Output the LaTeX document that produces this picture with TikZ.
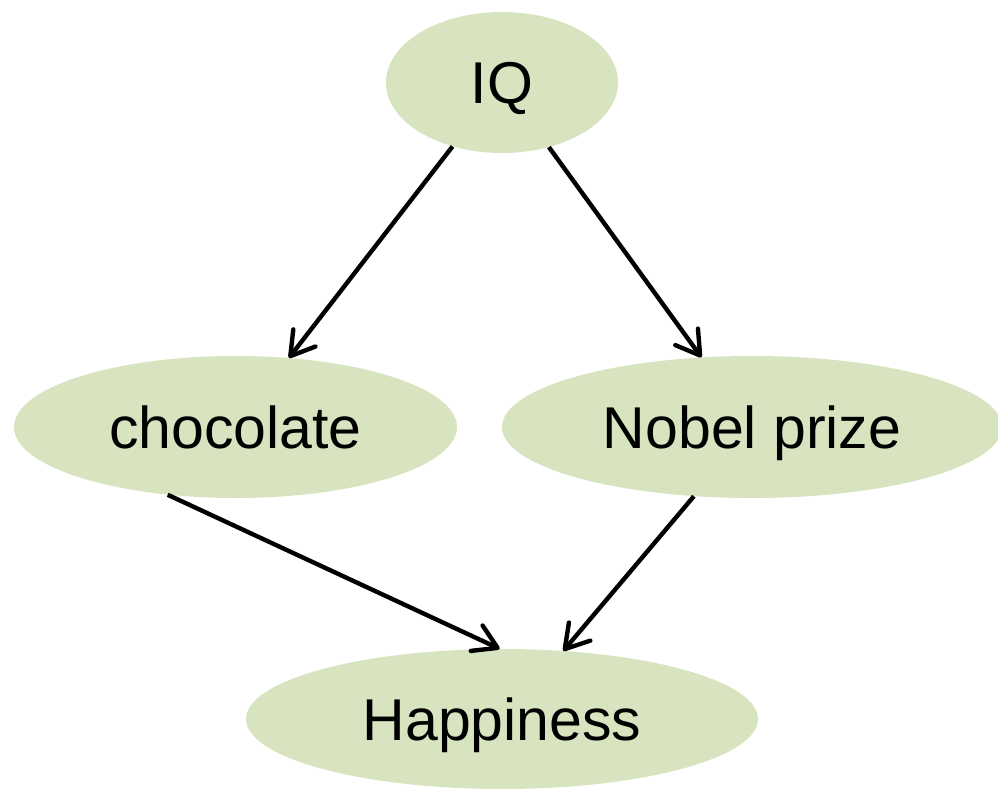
\documentclass[tikz,border=0pt]{standalone}
\usepackage{fontspec}
\setmainfont{Liberation Sans}
\usetikzlibrary{shapes.geometric,arrows.meta}
\definecolor{nodegreen}{HTML}{D8E4BF}
\begin{document}
\begin{tikzpicture}[x=1pt,y=1pt,
  var/.style={ellipse, fill=nodegreen, draw=none, inner sep=0pt,
    font=\fontsize{59}{59}\selectfont, text height=42pt, text depth=0pt},
  edge/.style={line width=4.4pt, draw=black,
    -{Straight Barb[length=23pt,width=28pt,line cap=round,line join=round]}}]
  \useasboundingbox (0,0) rectangle (998,-789);
  \node[var, minimum width=232, minimum height=141] (iq)    at (502,-82.5) {IQ};
  \node[var, minimum width=443, minimum height=142] (choc)  at (235.5,-427) {chocolate};
  \node[var, minimum width=500, minimum height=142] (nobel) at (752,-427) {Nobel prize};
  \node[var, minimum width=512, minimum height=140] (happ)  at (502,-719) {Happiness};
  \draw[edge] (iq) -- (choc);
  \draw[edge] (iq) -- (nobel);
  \draw[edge] (choc.225) -- (happ.92);
  \draw[edge] (nobel.230) -- (happ.48.5);
\end{tikzpicture}
\end{document}
